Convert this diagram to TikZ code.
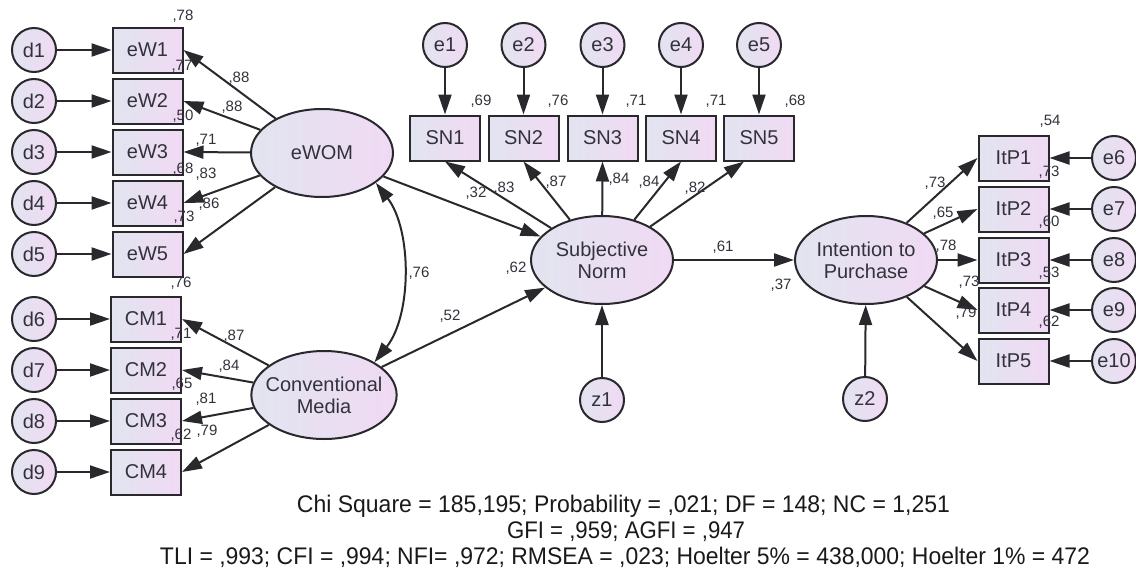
\documentclass[tikz,border=0pt]{standalone}
\usepackage{fontspec}
\setmainfont{Liberation Sans}
\usepackage{graphicx}
\usetikzlibrary{arrows.meta,shapes.geometric}
\definecolor{ink}{RGB}{40,40,45}
\definecolor{fillL}{RGB}{226,228,240}
\definecolor{fillR}{RGB}{240,218,243}
\definecolor{txt}{RGB}{50,50,60}
\begin{document}
\begin{tikzpicture}[x=1pt,y=-1pt,
 base/.style={draw=ink,line width=2pt,left color=fillL,right color=fillR,text=txt,font=\fontsize{20}{22}\selectfont},
 obs/.style={base,rectangle,minimum width=70pt,minimum height=45pt,inner sep=0pt},
 lat/.style={base,ellipse,minimum width=142pt,minimum height=88pt,align=center,inner sep=-7pt},
 err/.style={base,circle,minimum size=44pt,inner sep=0pt},
 arr/.style={draw=ink,line width=2pt,-{Triangle[length=20pt,width=13pt]}},
 dbl/.style={draw=ink,line width=2pt,{Triangle[length=20pt,width=13pt]}-{Triangle[length=20pt,width=13pt]}},
 lbl/.style={text=txt,font=\fontsize{15}{17}\selectfont,inner sep=0pt},
 bt/.style={text=black!90,font=\fontsize{24}{26}\selectfont,inner sep=0pt,anchor=base},
]
\useasboundingbox (0,0) rectangle (1136,570);

% ---- eWOM block
\foreach \i/\y in {1/50,2/101,3/152,4/203,5/254}{
  \node[err] (d\i) at (34,\y) {d\i};
  \node[obs] (eW\i) at (147.5,\y) {eW\i};
}
% ---- CM block
\foreach \i/\j/\y in {1/6/319,2/7/370,3/8/421,4/9/472}{
  \node[err] (d\j) at (34,\y) {d\j};
  \node[obs] (CM\i) at (146,\y) {CM\i};
}
\node[lat] (eWOM) at (322,153) {eWOM};
\node[lat] (CMl) at (324,395) {Conventional\\Media};
\node[lat] (SN) at (602,260) {Subjective\\Norm};
\node[lat] (ItP) at (866,260) {Intention to\\Purchase};
\node[err] (z1) at (602,400) {z1};
\node[err] (z2) at (865,399) {z2};

\foreach \i/\x in {1/445,2/523.5,3/602.5,4/681,5/759}{
  \node[obs] (SN\i) at (\x,138) {SN\i};
  \node[err] (e\i) at (\x,45) {e\i};
}
\foreach \i/\j/\y in {1/6/158,2/7/209,3/8/260,4/9/310,5/10/361}{
  \node[obs] (ItP\i) at (1013.5,\y) {ItP\i};
  \node[err] (e\j) at (1114,\y) {e\j};
}

% ---- connectors
\foreach \i in {1,...,5}{
  \draw[arr] (d\i) -- (eW\i);
  \draw[arr] (eWOM) -- (eW\i.east);
  \draw[arr] (e\i) -- (SN\i);
}
\foreach \i/\j in {1/6,2/7,3/8,4/9}{
  \draw[arr] (d\j) -- (CM\i);
  \draw[arr] (CMl) -- (CM\i.east);
}
\foreach \i/\j in {1/6,2/7,3/8,4/9,5/10}{
  \draw[arr] (e\j) -- (ItP\i);
  \draw[arr] (ItP) -- (ItP\i.west);
}
\foreach \i in {1,...,4}{
  \draw[arr] (SN) -- (SN\i.south);
}
\draw[arr] (SN) -- ([xshift=-15pt]SN5.south);
\draw[arr] (eWOM) -- (SN);
\draw[arr] (CMl) -- (SN);
\draw[arr] (SN) -- (ItP);
\draw[arr] (z1) -- (SN);
\draw[arr] (z2) -- (ItP);
\draw[dbl] (eWOM.-29) .. controls (412,230) and (412,315) .. (CMl.33);

% ---- labels left
\node[lbl] (r1) at (183,16) {,78};
\node[lbl] (r2) at (182,66) {,77};
\node[lbl] (b1) at (239,78) {,88};
\node[lbl] (b2) at (232,107) {,88};
\node[lbl] (r3) at (183,116) {,50};
\node[lbl] (b3) at (206,140) {,71};
\node[lbl] (r4) at (183,169) {,68};
\node[lbl] (b4) at (206,174) {,83};
\node[lbl] (b5) at (209,204) {,86};
\node[lbl] (r5) at (184,217) {,73};
\node[lbl] (r6) at (181,283) {,76};
\node[lbl] (r7) at (181,334) {,71};
\node[lbl] (b6) at (234,336) {,87};
\node[lbl] (b7) at (229,366) {,84};
\node[lbl] (r8) at (182,384) {,65};
\node[lbl] (b8) at (206,399) {,81};
\node[lbl] (r9) at (181,435) {,62};
\node[lbl] (b9) at (207,431) {,79};
% ---- labels middle
\node[lbl] (c1) at (419,273) {,76};
\node[lbl] (c2) at (450,316) {,52};
\node[lbl] (c3) at (516,268) {,62};
\node[lbl] (c4) at (476,193) {,32};
\node[lbl] (s1) at (504,188) {,83};
\node[lbl] (s2) at (556,182) {,87};
\node[lbl] (s3) at (619,179) {,84};
\node[lbl] (s4) at (649,182) {,84};
\node[lbl] (s5) at (695,188) {,82};
\node[lbl] (q1) at (481,101) {,69};
\node[lbl] (q2) at (558,101) {,76};
\node[lbl] (q3) at (636,101) {,71};
\node[lbl] (q4) at (716,101) {,71};
\node[lbl] (q5) at (795,101) {,68};
\node[lbl] (c5) at (723,247) {,61};
\node[lbl] (c6) at (781,285) {,37};
% ---- labels right
\node[lbl] (p1) at (1050,121) {,54};
\node[lbl] (g1) at (935,183) {,73};
\node[lbl] (p2) at (1049,172) {,73};
\node[lbl] (g2) at (943,213) {,65};
\node[lbl] (p3) at (1049,222) {,60};
\node[lbl] (g3) at (946,246) {,78};
\node[lbl] (p4) at (1049,273) {,53};
\node[lbl] (g4) at (969,282) {,73};
\node[lbl] (g5) at (966,313) {,79};
\node[lbl] (p5) at (1049,322) {,62};

% ---- fit statistics
\node[bt] (t1) at (623.5,512) {\resizebox{653pt}{\height}{Chi Square = 185,195; Probability = ,021; DF = 148; NC = 1,251}};
\node[bt] (t2) at (626,538) {\resizebox{238pt}{\height}{GFI = ,959; AGFI = ,947}};
\node[bt] (t3) at (625,564) {\resizebox{930pt}{\height}{TLI = ,993; CFI = ,994; NFI= ,972; RMSEA = ,023; Hoelter 5\% = 438,000; Hoelter 1\% = 472}};
\end{tikzpicture}
\end{document}
